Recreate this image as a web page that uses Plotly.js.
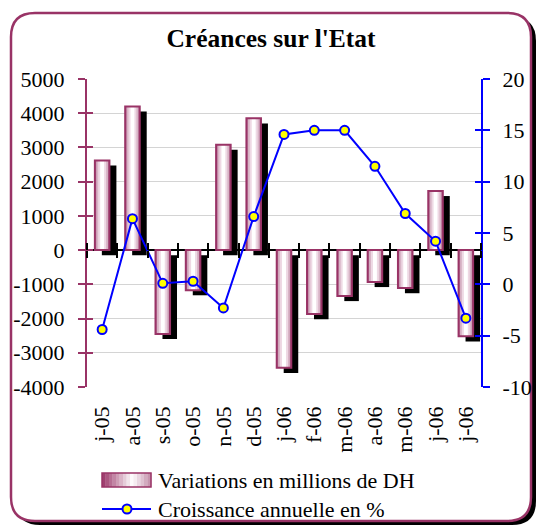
<!DOCTYPE html>
<html>
<head>
<meta charset="utf-8">
<script src="https://cdn.plot.ly/plotly-3.0.1.min.js"></script>
<style>html,body{margin:0;padding:0;background:#fff;}#chart{width:538px;height:526px;}</style>
</head>
<body>
<div id="chart"></div>
<script>
// ---- data ----
const labels = ['j-05','a-05','s-05','o-05','n-05','d-05','j-06','f-06','m-06','a-06','m-06','j-06','j-06'];
const variations = [2620, 4200, -2450, -1170, 3080, 3850, -3440, -1870, -1340, -930, -1110, 1730, -2520];
const croissance = [-4.4, 6.4, 0.1, 0.3, -2.3, 6.6, 14.6, 15.0, 15.0, 11.5, 6.9, 4.2, -3.3];
const leftTicks = [-4000, -3000, -2000, -1000, 0, 1000, 2000, 3000, 4000, 5000];
const rightTicks = [-10, -5, 0, 5, 10, 15, 20];
const barName = 'Variations en millions de DH';
const lineName = 'Croissance annuelle en %';
const titleText = "Créances sur l'Etat";

// ---- layout helpers ----
const W = 538, H = 526;
const M = {l: 87, r: 57, t: 79, b: 139};
const PW = W - M.l - M.r, PH = H - M.t - M.b;
const X = px => (px - M.l) / PW;
const Y = py => (H - M.b - py) / PH;
const idx = labels.map((_, i) => i);
const bounds = labels.map((_, i) => i - 0.5).concat([labels.length - 0.5]);
const yRange = [-4000, 5000], y2Range = [-10, 20];
const zeroFrac = (0 - yRange[0]) / (yRange[1] - yRange[0]);
const FONT = '"Liberation Serif", "Times New Roman", Times, serif';
const MAG = '#993366';
const BW = 0.48;

function roundRect(l, t, r, b, rad) {
  return 'M' + X(l + rad) + ',' + Y(t) + ' L' + X(r - rad) + ',' + Y(t) +
    ' Q' + X(r) + ',' + Y(t) + ' ' + X(r) + ',' + Y(t + rad) +
    ' L' + X(r) + ',' + Y(b - rad) +
    ' Q' + X(r) + ',' + Y(b) + ' ' + X(r - rad) + ',' + Y(b) +
    ' L' + X(l + rad) + ',' + Y(b) +
    ' Q' + X(l) + ',' + Y(b) + ' ' + X(l) + ',' + Y(b - rad) +
    ' L' + X(l) + ',' + Y(t + rad) +
    ' Q' + X(l) + ',' + Y(t) + ' ' + X(l + rad) + ',' + Y(t) + ' Z';
}
function mix(c1, c2, t) {
  const a = [1,3,5].map(i => parseInt(c1.substr(i, 2), 16));
  const b = [1,3,5].map(i => parseInt(c2.substr(i, 2), 16));
  return 'rgb(' + a.map((v, k) => Math.round(v + (b[k] - v) * t)).join(',') + ')';
}

const shadowShift = 150;
const traces = [
  {type: 'bar', x: idx, y: variations, base: -shadowShift, width: BW, offset: -BW / 2 + 0.23,
   marker: {color: '#000000', line: {width: 0}}, showlegend: false, hoverinfo: 'skip'},
  {type: 'bar', name: barName, x: idx, y: variations, width: BW,
   marker: {color: '#bb7f9f', line: {width: 0}}, showlegend: false},
  {type: 'bar', x: idx, y: variations, width: 0.38,
   marker: {color: '#d8b4c6', line: {width: 0}}, showlegend: false, hoverinfo: 'skip'},
  {type: 'bar', x: idx, y: variations, width: 0.26,
   marker: {color: '#eed9e4', line: {width: 0}}, showlegend: false, hoverinfo: 'skip'},
  {type: 'bar', x: idx, y: variations, width: 0.13,
   marker: {color: '#ffffff', line: {width: 0}}, showlegend: false, hoverinfo: 'skip'},
  {type: 'bar', x: idx, y: variations, width: BW,
   marker: {color: 'rgba(0,0,0,0)', line: {color: MAG, width: 2}}, showlegend: false, hoverinfo: 'skip'},
  // helper traces for tick-only axes
  {type: 'scatter', mode: 'markers', x: idx, y: variations, xaxis: 'x2', yaxis: 'y',
   marker: {opacity: 0}, showlegend: false, hoverinfo: 'skip'},
  {type: 'scatter', mode: 'markers', x: idx, y: variations, xaxis: 'x3', yaxis: 'y',
   marker: {opacity: 0}, showlegend: false, hoverinfo: 'skip'},
  {type: 'scatter', mode: 'markers', x: idx, y: variations, yaxis: 'y3',
   marker: {opacity: 0}, showlegend: false, hoverinfo: 'skip'},
  {type: 'scatter', mode: 'markers', x: idx, y: croissance, yaxis: 'y4',
   marker: {opacity: 0}, showlegend: false, hoverinfo: 'skip'},
  {type: 'scatter', mode: 'lines+markers', name: lineName, x: idx, y: croissance, yaxis: 'y2',
   line: {color: '#0000ff', width: 2},
   marker: {size: 9, color: '#ffff00', line: {color: '#0000ff', width: 2}}, showlegend: false}
];

// ---- custom legend (symbols as shapes, text as annotations) ----
const legShapes = [];
const lx0 = 102, lx1 = 151, ly0 = 473, ly1 = 487;
const nStrip = 14;
for (let i = 0; i < nStrip; i++) {
  const t = (i + 0.5) / nStrip;
  let col;
  if (t < 0.62) col = mix('#993366', '#ffffff', t / 0.62);
  else col = mix('#ffffff', '#c08aa6', (t - 0.62) / 0.38);
  legShapes.push({type: 'rect', xref: 'paper', yref: 'paper', layer: 'above',
    x0: X(lx0 + (lx1 - lx0) * i / nStrip), x1: X(lx0 + (lx1 - lx0) * (i + 1) / nStrip + 0.3),
    y0: Y(ly1), y1: Y(ly0), fillcolor: col, line: {width: 0}});
}
legShapes.push({type: 'rect', xref: 'paper', yref: 'paper', layer: 'above',
  x0: X(lx0), x1: X(lx1), y0: Y(ly1), y1: Y(ly0), line: {color: MAG, width: 1.5}});
legShapes.push({type: 'line', xref: 'paper', yref: 'paper', layer: 'above',
  x0: X(102), x1: X(151), y0: Y(509), y1: Y(509), line: {color: '#0000ff', width: 2}});
legShapes.push({type: 'circle', xref: 'paper', yref: 'paper', layer: 'above',
  x0: X(122.5), x1: X(131.5), y0: Y(513.5), y1: Y(504.5), fillcolor: '#ffff00', line: {color: '#0000ff', width: 2}});

const tickFont = {family: FONT, size: 22, color: '#000'};
const layout = {
  width: W, height: H,
  margin: Object.assign({autoexpand: false, pad: 0}, M),
  paper_bgcolor: '#ffffff', plot_bgcolor: 'rgba(0,0,0,0)',
  barmode: 'overlay',
  title: {text: titleText, font: {family: FONT, size: 25.5, color: '#000', weight: 700},
          x: 271 / W, xref: 'container', xanchor: 'center', y: 1 - 38 / H, yref: 'container', yanchor: 'middle'},
  showlegend: false,
  xaxis: {range: [-0.5, labels.length - 0.5], tickmode: 'array', tickvals: idx, ticktext: labels, tickangle: -90,
          showgrid: false, zeroline: false, showline: false, ticks: '', tickfont: tickFont, ticklabelstandoff: 14},
  xaxis2: {overlaying: 'x', range: [-0.5, labels.length - 0.5], anchor: 'free', position: zeroFrac, side: 'bottom',
           tickmode: 'array', tickvals: bounds, ticks: 'outside', ticklen: 7, tickwidth: 2, tickcolor: '#000',
           showticklabels: false, showgrid: false, zeroline: false, showline: false},
  xaxis3: {overlaying: 'x', range: [-0.5, labels.length - 0.5], anchor: 'free', position: zeroFrac, side: 'top',
           tickmode: 'array', tickvals: bounds, ticks: 'outside', ticklen: 7, tickwidth: 2, tickcolor: '#000',
           showticklabels: false, showgrid: false, zeroline: false, showline: false},
  yaxis: {range: yRange, tickmode: 'array', tickvals: leftTicks, ticktext: leftTicks.map(String),
          showgrid: true, gridcolor: '#d4d4d4', gridwidth: 1,
          zeroline: true, zerolinecolor: '#000', zerolinewidth: 2,
          showline: true, linecolor: MAG, linewidth: 2,
          ticks: 'outside', ticklen: 7, tickwidth: 2, tickcolor: MAG, tickfont: tickFont, ticklabelstandoff: 9},
  yaxis2: {overlaying: 'y', side: 'right', anchor: 'x', range: y2Range, tickmode: 'array', tickvals: rightTicks,
           ticktext: rightTicks.map(String), showgrid: false, zeroline: false,
           showline: true, linecolor: '#0000ff', linewidth: 2,
           ticks: 'outside', ticklen: 7, tickwidth: 2, tickcolor: '#0000ff', tickfont: tickFont, ticklabelstandoff: 8},
  yaxis3: {overlaying: 'y', side: 'left', anchor: 'x', range: yRange, tickmode: 'array', tickvals: leftTicks,
           ticks: 'inside', ticklen: 6, tickwidth: 2, tickcolor: MAG, showticklabels: false,
           showgrid: false, zeroline: false, showline: false},
  yaxis4: {overlaying: 'y', side: 'right', anchor: 'x', range: y2Range, tickmode: 'array', tickvals: rightTicks,
           ticks: 'inside', ticklen: 6, tickwidth: 2, tickcolor: '#0000ff', showticklabels: false,
           showgrid: false, zeroline: false, showline: false},
  shapes: [
    {type: 'path', xref: 'paper', yref: 'paper', layer: 'below', path: roundRect(16, 17, 536, 525, 24),
     fillcolor: '#000', line: {width: 0}},
    {type: 'path', xref: 'paper', yref: 'paper', layer: 'below', path: roundRect(11, 13, 531, 521, 24),
     fillcolor: '#fff', line: {color: MAG, width: 2.5}}
  ].concat(legShapes),
  annotations: [
    {text: barName, xref: 'paper', yref: 'paper', x: X(156), y: Y(480), xanchor: 'left', yanchor: 'middle',
     showarrow: false, font: {family: FONT, size: 22, color: '#000'}},
    {text: lineName, xref: 'paper', yref: 'paper', x: X(156), y: Y(509), xanchor: 'left', yanchor: 'middle',
     showarrow: false, font: {family: FONT, size: 22, color: '#000'}}
  ],
  hovermode: false
};

Plotly.newPlot('chart', traces, layout, {displayModeBar: false, staticPlot: true});
</script>
</body>
</html>
